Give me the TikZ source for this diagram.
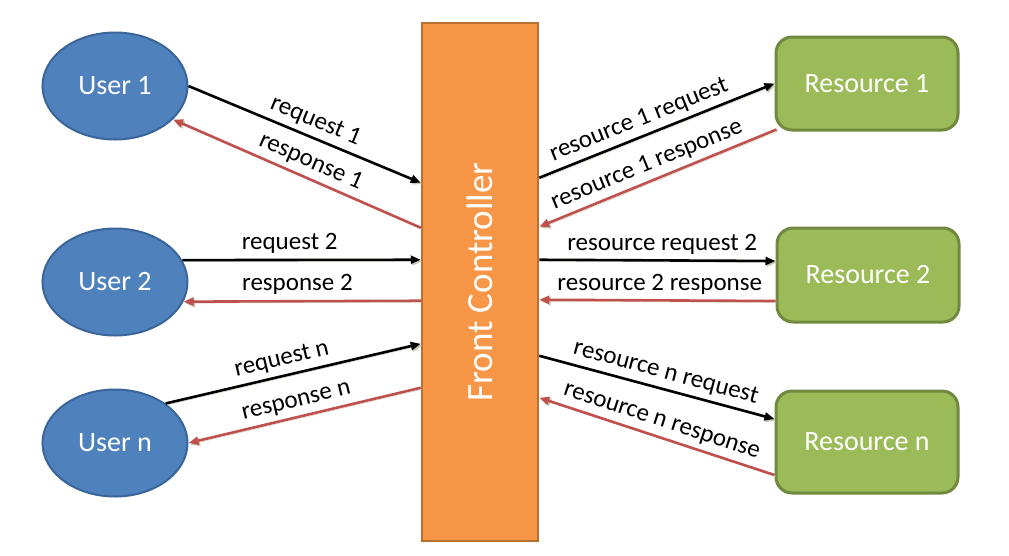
\documentclass[tikz,border=0pt]{standalone}
\usepackage{fontspec}
\setmainfont{Carlito}
\usetikzlibrary{arrows.meta,calc,shapes.geometric}
\definecolor{userfill}{HTML}{4F81BD}
\definecolor{userdraw}{HTML}{3A659A}
\definecolor{resfill}{HTML}{9BBB59}
\definecolor{resdraw}{HTML}{71893F}
\definecolor{fcfill}{HTML}{F79646}
\definecolor{fcdraw}{HTML}{B96E32}
\definecolor{respred}{HTML}{C0504D}
\definecolor{shadowc}{HTML}{C4C9B0}
\begin{document}
\begin{tikzpicture}[x=1pt,y=-1pt,
  user/.style={ellipse, fill=userfill, draw=userdraw, line width=2pt,
    minimum width=145pt, minimum height=107pt, inner sep=0pt,
    text=white, font=\fontsize{28}{32}\selectfont},
  resource/.style={rectangle, rounded corners=16pt, fill=resfill, draw=resdraw,
    line width=3pt, minimum width=182pt, text=white, font=\fontsize{28}{32}\selectfont},
  fcbox/.style={rectangle, fill=fcfill, draw=fcdraw, line width=2.5pt,
    minimum width=116pt, minimum height=518pt},
  fctext/.style={rotate=90, text=white, font=\fontsize{37}{40}\selectfont},
  req/.style={line width=2.6pt, draw=black, -{Triangle[length=10pt,width=8pt]},
    preaction={draw=shadowc, transform canvas={xshift=1.5pt,yshift=-1.5pt}}},
  resp/.style={req, draw=respred},
  lbl/.style={font=\fontsize{25}{28}\selectfont, inner sep=1pt, above=4pt},
]
\useasboundingbox (0,0) rectangle (1009,555);

% nodes
\node[user] (u1) at (115,86) {User 1};
\node[user] (u2) at (115,282) {User 2};
\node[user] (u3) at (115,443) {User n};
\node[resource, minimum height=93pt] (r1) at (867,83.5) {Resource 1};
\node[resource, minimum height=94pt] (r2) at (868,275) {Resource 2};
\node[resource, minimum height=102pt] (r3) at (867,442) {Resource n};
\node[fcbox, label={[fctext]center:Front Controller}] (fc) at (480,282) {};

% user side
\draw[req] (u1.east) -- ($(fc.north west)+(0,161)$)
  node[lbl, sloped, pos=0.52] {request 1};
\draw[resp] ($(fc.north west)+(0,206)$) -- (u1.-30)
  node[lbl, sloped, pos=0.47] {response 1};
\draw[req] (u2.18) -- ($(fc.north west)+(0,238)$)
  node[lbl, pos=0.45] {request 2};
\draw[resp] ($(fc.north west)+(0,279)$) -- (u2.-16)
  node[lbl, pos=0.52] {response 2};
\draw[req] (u3.38) -- ($(fc.north west)+(0,322)$)
  node[lbl, sloped, pos=0.47] {request n};
\draw[resp] ($(fc.north west)+(0,366)$) -- (u3.0)
  node[lbl, sloped, pos=0.52] {response n};

% resource side
\draw[req] ($(fc.north east)+(0,156)$) -- (r1.west)
  node[lbl, sloped, pos=0.45] {resource 1 request};
\draw[resp] ($(r1.south west)+(2,-2)$) -- ($(fc.north east)+(0,205)$)
  node[lbl, sloped, pos=0.52] {resource 1 response};
\draw[req] ($(fc.north east)+(0,238)$) -- ($(r2.west)+(0,-14)$)
  node[lbl, pos=0.52] {resource request 2};
\draw[resp] ($(r2.west)+(0,26)$) -- ($(fc.north east)+(0,278)$)
  node[lbl, pos=0.49] {resource 2 response};
\draw[req] ($(fc.north east)+(0,334)$) -- ($(r3.west)+(0,-23)$)
  node[lbl, sloped, pos=0.52] {resource n request};
\draw[resp] ($(r3.west)+(0,33)$) -- ($(fc.north east)+(0,376)$)
  node[lbl, sloped, pos=0.5] {resource n response};
\end{tikzpicture}
\end{document}
